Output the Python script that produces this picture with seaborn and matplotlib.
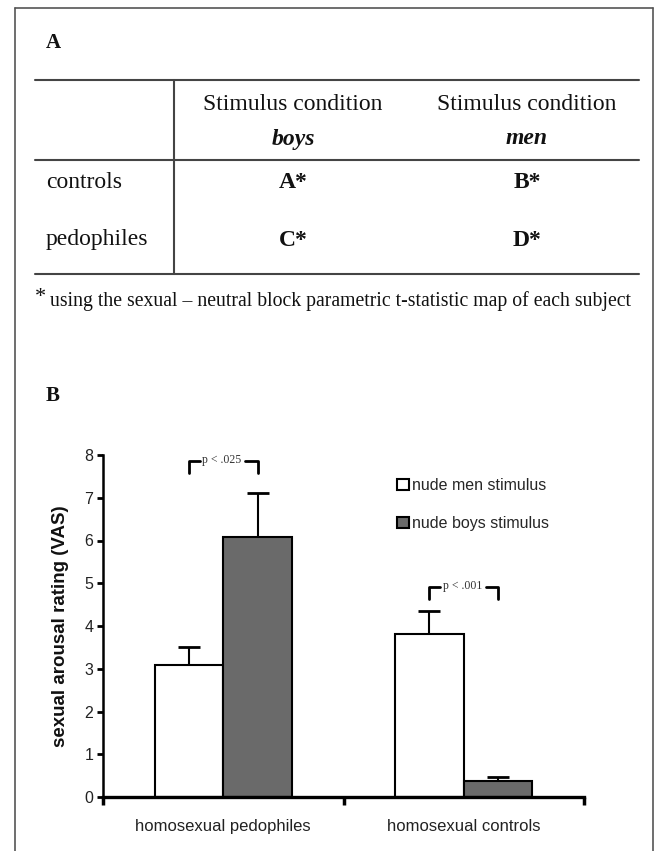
import numpy as np
import pandas as pd
import matplotlib
matplotlib.use("Agg")
import matplotlib.pyplot as plt
import seaborn as sns

# ---------------- data ----------------
groups = ["homosexual pedophiles", "homosexual controls"]
stimuli = ["nude men stimulus", "nude boys stimulus"]
men_mean = [3.08, 3.81]
men_err = [0.44, 0.53]
boys_mean = [6.09, 0.38]
boys_err = [1.03, 0.08]
p_labels = ["p < .025", "p < .001"]
p_levels = [7.86, 4.91]

# table (panel A)
col_heads = ["Stimulus condition", "Stimulus condition"]
col_sub = ["boys", "men"]
row_heads = ["controls", "pedophiles"]
cells = [["A*", "B*"], ["C*", "D*"]]
footnote = "using the sexual \u2013 neutral block parametric t-statistic map of each subject"

df = pd.DataFrame({
    "group": groups * 2,
    "stimulus": [stimuli[0]] * 2 + [stimuli[1]] * 2,
    "rating": men_mean + boys_mean,
    "err": men_err + boys_err,
})

sns.set_theme(style="white")
plt.rcParams["font.family"] = ["Liberation Sans", "DejaVu Sans"]

W, H = 656, 851
fig = plt.figure(figsize=(W / 100, H / 100), dpi=100)

# background axes in pixel coordinates for frame + table
bg = fig.add_axes([0, 0, 1, 1], zorder=-1)
bg.set_xlim(0, W)
bg.set_ylim(H, 0)
bg.axis("off")

frame_c = "#555555"
bg.plot([15, 15], [8, H], color=frame_c, lw=1.2)
bg.plot([15, 653], [8, 8], color=frame_c, lw=1.2)
bg.plot([653, 653], [8, H], color=frame_c, lw=1.2)

serif = ["Liberation Serif", "DejaVu Serif"]
bg.text(46, 43, "A", family=serif, fontsize=15, fontweight="bold", va="center", ha="left", color="#111")
bg.text(46, 396, "B", family=serif, fontsize=15, fontweight="bold", va="center", ha="left", color="#111")

line_c = "#444444"
for yy in [80, 160, 274]:
    bg.plot([35, 639], [yy, yy], color=line_c, lw=1.5)
bg.plot([174, 174], [80, 274], color=line_c, lw=1.5)

col_x = [293, 527]
for cx, head, sub in zip(col_x, col_heads, col_sub):
    bg.text(cx, 104, head, family=serif, fontsize=17, ha="center", va="center", color="#111")
    bg.text(cx, 139, sub, family=serif, fontsize=17, ha="center", va="center",
            fontweight="bold", style="italic", color="#111")
for ry, rlab, row in zip([183, 240], row_heads, cells):
    bg.text(46, ry, rlab, family=serif, fontsize=17, ha="left", va="center", color="#111")
    for cx, c in zip(col_x, row):
        bg.text(cx, ry, c, family=serif, fontsize=17, ha="center", va="center",
                fontweight="bold", color="#111")
bg.text(35, 297, "*", family=serif, fontsize=16, ha="left", va="center", color="#111")
bg.text(50, 301, footnote, family=serif, fontsize=14.2, ha="left", va="center", color="#111")

# ---------------- bar chart (panel B) ----------------
ax = fig.add_axes([103 / W, 1 - 797 / H, 481 / W, 342 / H])
sns.barplot(
    data=df, x="group", y="rating", hue="stimulus",
    order=groups, hue_order=stimuli,
    palette={stimuli[0]: "white", stimuli[1]: "#6a6a6a"},
    edgecolor="black", linewidth=1.5, width=0.57, errorbar=None, ax=ax,
)

# upward error bars positioned from the drawn bars
for cont, errs in zip(ax.containers, [men_err, boys_err]):
    xs = [b.get_x() + b.get_width() / 2 for b in cont]
    ys = [b.get_height() for b in cont]
    eb = ax.errorbar(xs, ys, yerr=[np.zeros(len(errs)), errs], fmt="none",
                     ecolor="black", elinewidth=1.5, capsize=8, capthick=2, zorder=3)
    eb[1][0].set_visible(False)  # hide lower caps

# significance brackets between bar centers
left_bars = list(ax.containers[0])
right_bars = list(ax.containers[1])
for lb, rb, lab, lev in zip(left_bars, right_bars, p_labels, p_levels):
    x0 = lb.get_x() + lb.get_width() / 2
    x1 = rb.get_x() + rb.get_width() / 2
    leg = 0.27
    ax.plot([x0, x0, x0 + 0.045], [lev - leg, lev, lev], color="black", lw=2, clip_on=False)
    ax.plot([x1 - 0.05, x1, x1], [lev, lev, lev - leg], color="black", lw=2, clip_on=False)
    ax.text((x0 + x1) / 2 - 0.005, lev + 0.02, lab, family=serif, fontsize=8.5,
            ha="center", va="center", color="#333")

ax.set_xlim(-0.5, 1.5)
ax.set_ylim(0, 8)
ax.set_yticks(range(0, 9))
ax.set_xlabel("")
ax.set_ylabel("sexual arousal rating (VAS)", fontsize=13.5, fontweight="bold", color="#111")
ax.yaxis.set_label_coords(-0.071, 0.5)

for s in ["top", "right"]:
    ax.spines[s].set_visible(False)
ax.spines["left"].set_linewidth(1.8)
ax.spines["bottom"].set_linewidth(2.4)
ax.spines["left"].set_color("black")
ax.spines["bottom"].set_color("black")

ax.tick_params(axis="y", direction="out", length=4, width=2, labelsize=11.5,
               left=True, pad=3, colors="black", labelcolor="#222")
ax.set_xticks([0, 1])
ax.set_xticklabels(groups)
ax.set_xticks([-0.5, 0.5, 1.5], minor=True)
ax.tick_params(axis="x", which="major", length=0, pad=16, labelsize=12, labelcolor="#222")
ax.tick_params(axis="x", which="minor", direction="out", length=6, width=2.5,
               bottom=True, colors="black")

sns.move_legend(
    ax, "upper left", bbox_to_anchor=(397 / W, 1 - 478 / H),
    bbox_transform=fig.transFigure, title=None, frameon=False,
    handlelength=0.72, handleheight=0.72, handletextpad=0.2,
    labelspacing=1.45, borderpad=0, borderaxespad=0, fontsize=11.5,
)

fig.savefig("out.png", dpi=100)
